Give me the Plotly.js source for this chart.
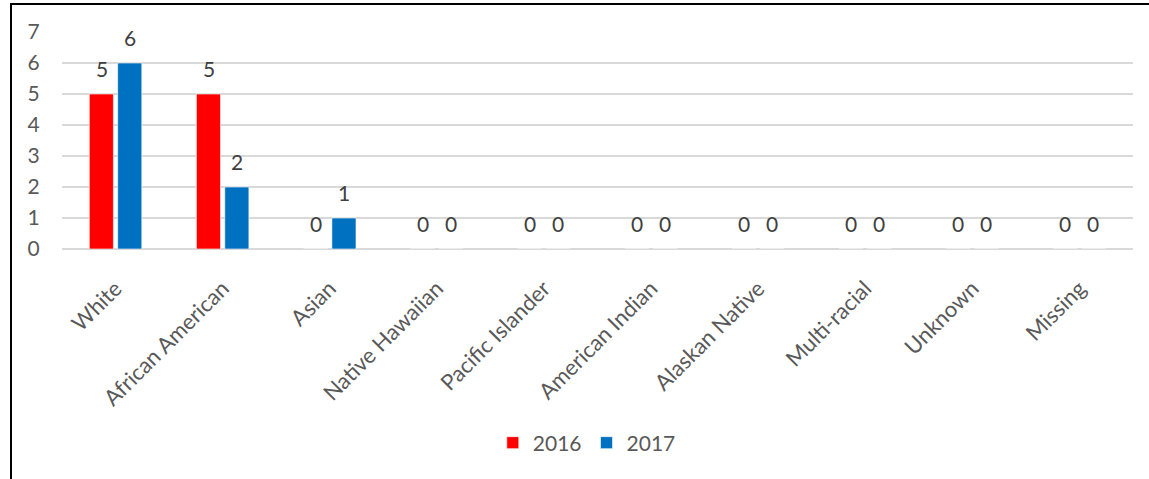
<!DOCTYPE html>
<html>
<head>
<meta charset="utf-8">
<script src="https://cdn.plot.ly/plotly-3.0.1.min.js"></script>
<style>
  body { margin: 0; background: #fff; }
  #frame {
    position: absolute; left: 10px; top: 3px;
    width: 1139px; height: 476px;
    border-left: 2px solid #000; border-top: 2px solid #000;
  }
  #chart { width: 1137px; height: 474px; }
</style>
</head>
<body>
<div id="frame"><div id="chart"></div></div>
<script>
// categories and counts per year
const groups = ['White', 'African American', 'Asian', 'Native Hawaiian', 'Pacific Islander',
  'American Indian', 'Alaskan Native', 'Multi-racial', 'Unknown', 'Missing'];
const counts2016 = [5, 5, 0, 0, 0, 0, 0, 0, 0, 0];
const counts2017 = [6, 2, 1, 0, 0, 0, 0, 0, 0, 0];

const font = 'Lato, "Open Sans", sans-serif';

function barTrace(name, values, color) {
  return {
    type: 'bar',
    name: name,
    x: groups,
    y: values,
    marker: { color: color, line: { color: 'rgba(255,255,255,0.6)', width: 1 } },
    hoverinfo: 'x+y'
  };
}

const traces = [
  barTrace('2016', counts2016, '#ff0000'),
  barTrace('2017', counts2017, '#0070c0')
];

// value labels above each bar, shifted left/right to sit on their bar
function labels(values, shift) {
  return values.map((v, i) => ({
    x: groups[i], y: v, xref: 'x', yref: 'y',
    text: String(v), showarrow: false,
    xanchor: 'center', yanchor: 'bottom',
    xshift: shift, yshift: 11,
    font: { family: font, size: 21, color: '#404040' }
  }));
}

const layout = {
  width: 1137,
  height: 474,
  margin: { l: 50, r: 16, t: 27, b: 230 },
  paper_bgcolor: '#fff',
  plot_bgcolor: '#fff',
  font: { family: font, size: 20, color: '#595959' },
  barmode: 'group',
  bargap: 0.47,
  bargroupgap: 0.15,
  showlegend: true,
  legend: {
    orientation: 'h',
    x: 0.49, xanchor: 'center',
    y: -0.894, yanchor: 'middle',
    font: { family: font, size: 21, color: '#595959' },
    itemwidth: 30
  },
  annotations: labels(counts2016, -14).concat(labels(counts2017, 14)),
  xaxis: {
    type: 'category',
    tickangle: -45,
    tickfont: { family: font, size: 22, color: '#595959' },
    showgrid: false,
    showline: false,
    zeroline: false,
    ticks: 'outside',
    ticklen: 17,
    tickcolor: 'rgba(0,0,0,0)'
  },
  yaxis: {
    range: [0, 7],
    dtick: 1,
    tickfont: { family: font, size: 21, color: '#595959' },
    showgrid: true,
    gridcolor: '#d9d9d9',
    gridwidth: 1.5,
    zeroline: true,
    zerolinecolor: '#d9d9d9',
    zerolinewidth: 1.5,
    ticks: 'outside',
    ticklen: 17,
    tickcolor: 'rgba(0,0,0,0)'
  }
};

Plotly.newPlot('chart', traces, layout, { displayModeBar: false, staticPlot: true });
</script>
</body>
</html>
